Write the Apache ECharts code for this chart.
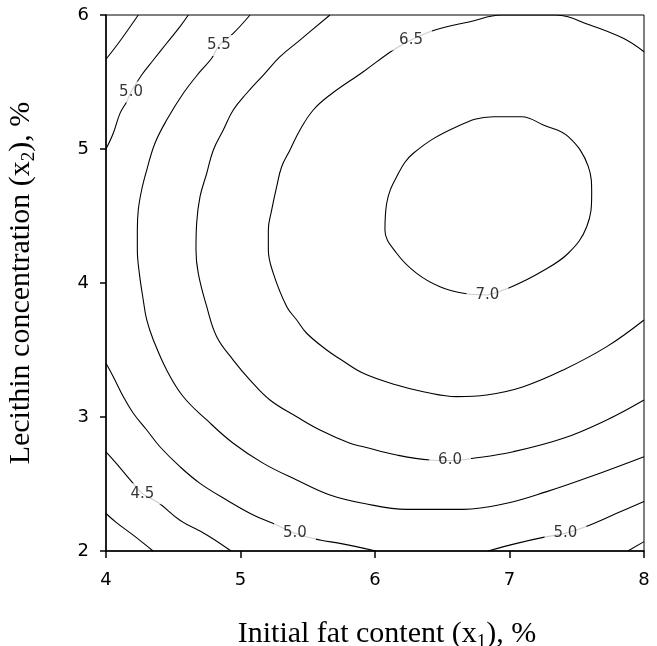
<!DOCTYPE html>
<html>
<head>
<meta charset="utf-8">
<script src="https://cdn.jsdelivr.net/npm/echarts@6/dist/echarts.min.js"></script>
<style>
  html, body { margin: 0; padding: 0; background: #fff; }
  #main { width: 657px; height: 646px; }
</style>
</head>
<body>
<div id="main"></div>
<script>
// axis ticks
var xTicks = [4, 5, 6, 7, 8];
var yTicks = [2, 3, 4, 5, 6];

// contour lines, [x1, x2] points
var c45TopLeft = [[4, 5.67], [4.10, 5.80], [4.24, 6.0]];
var c50TopLeft = [[4, 5.0], [4.054, 5.117], [4.104, 5.266], [4.154, 5.353], [4.186, 5.425],
  [4.265, 5.552], [4.352, 5.664], [4.451, 5.789], [4.550, 5.913], [4.612, 6.0]];
var c55 = [[5.071, 6.0], [4.946, 5.863], [4.840, 5.772], [4.786, 5.677], [4.699, 5.577],
  [4.575, 5.416], [4.451, 5.216], [4.364, 5.043], [4.303, 4.843], [4.265, 4.694],
  [4.240, 4.545], [4.233, 4.396], [4.233, 4.246], [4.248, 4.072], [4.277, 3.873],
  [4.303, 3.724], [4.352, 3.575], [4.451, 3.351], [4.575, 3.151], [4.749, 2.978],
  [4.946, 2.804], [5.170, 2.654], [5.418, 2.530], [5.665, 2.418], [5.913, 2.356],
  [6.236, 2.311], [6.657, 2.311], [6.979, 2.356], [7.277, 2.443], [7.599, 2.554], [8.0, 2.704]];
var c60 = [[5.665, 6.0], [5.442, 5.813], [5.294, 5.689], [5.170, 5.552], [5.046, 5.416],
  [4.946, 5.291], [4.872, 5.142], [4.798, 4.993], [4.749, 4.819], [4.699, 4.644],
  [4.674, 4.446], [4.669, 4.246], [4.686, 4.072], [4.749, 3.823], [4.823, 3.599],
  [4.946, 3.425], [5.071, 3.276], [5.219, 3.127], [5.418, 3.002], [5.591, 2.903],
  [5.814, 2.804], [5.913, 2.778], [6.161, 2.716], [6.409, 2.679], [6.558, 2.675],
  [6.731, 2.692], [7.028, 2.741], [7.400, 2.841], [7.723, 2.978], [8.0, 3.127]];
var c65 = [[8.0, 5.726], [7.846, 5.826], [7.599, 5.925], [7.338, 6.0], [6.942, 6.0],
  [6.706, 5.950], [6.446, 5.888], [6.268, 5.813], [6.136, 5.739], [5.913, 5.577],
  [5.665, 5.403], [5.541, 5.291], [5.442, 5.142], [5.368, 4.993], [5.306, 4.868],
  [5.269, 4.719], [5.232, 4.545], [5.207, 4.396], [5.207, 4.246], [5.244, 4.072],
  [5.344, 3.823], [5.418, 3.724], [5.492, 3.625], [5.641, 3.500], [5.740, 3.433],
  [5.913, 3.326], [6.161, 3.239], [6.359, 3.189], [6.607, 3.152], [6.830, 3.164],
  [7.103, 3.226], [7.400, 3.351], [7.723, 3.525], [8.0, 3.724]];
var c70 = [[6.840, 3.910], [7.016, 3.972], [7.230, 4.080], [7.437, 4.222], [7.574, 4.420],
  [7.611, 4.669], [7.586, 4.868], [7.437, 5.092], [7.251, 5.179], [7.091, 5.241],
  [6.880, 5.241], [6.607, 5.166], [6.285, 4.968], [6.161, 4.793], [6.087, 4.595],
  [6.074, 4.396], [6.161, 4.222], [6.310, 4.072], [6.483, 3.972], [6.657, 3.923], [6.840, 3.910]];
var c40BottomLeft = [[4, 2.28], [4.08, 2.21], [4.20, 2.12], [4.35, 2.0]];
var c45BottomLeft = [[4, 2.74], [4.08, 2.65], [4.18, 2.53], [4.27, 2.43], [4.39, 2.36],
  [4.55, 2.23], [4.75, 2.12], [4.93, 2.0]];
var c50BottomLeft = [[4, 3.401], [4.054, 3.301], [4.129, 3.151], [4.203, 3.028], [4.303, 2.903],
  [4.401, 2.778], [4.550, 2.629], [4.699, 2.505], [4.897, 2.381], [5.095, 2.269],
  [5.269, 2.194], [5.405, 2.132], [5.591, 2.082], [5.740, 2.057], [6.007, 2.0]];
var c50BottomRight = [[6.840, 2.0], [7.054, 2.057], [7.277, 2.107], [7.416, 2.132],
  [7.599, 2.194], [7.797, 2.281], [8.0, 2.37]];
var c45BottomRight = [[7.88, 2.0], [8.0, 2.07]];

// contour labels
var labelText = ['5.0', '5.5', '6.5', '7.0', '6.0', '4.5', '5.0', '5.0'];
var labelX = [4.186, 4.840, 6.268, 6.836, 6.558, 4.271, 5.405, 7.416];
var labelY = [5.425, 5.772, 5.813, 3.910, 2.675, 2.428, 2.132, 2.132];

var contours = [c45TopLeft, c50TopLeft, c55, c60, c65, c70,
  c40BottomLeft, c45BottomLeft, c50BottomLeft, c50BottomRight, c45BottomRight];

var myChart = echarts.init(document.getElementById('main'));

var series = contours.map(function (pts) {
  return {
    type: 'line',
    data: pts,
    showSymbol: false,
    symbol: 'none',
    smooth: 0.4,
    z: 2,
    lineStyle: { color: '#000', width: 1.1 }
  };
});

var labelData = labelText.map(function (t, i) {
  return { value: [labelX[i], labelY[i]], name: t };
});

series.push({
  type: 'scatter',
  data: labelData,
  symbolSize: 1,
  z: 5,
  itemStyle: { color: 'rgba(0,0,0,0)' },
  label: {
    show: true,
    position: 'inside',
    formatter: function (p) { return p.name; },
    fontFamily: 'DejaVu Sans',
    fontSize: 15,
    color: '#000',
    backgroundColor: '#fff',
    padding: [3, 9]
  }
});

var serifName = {
  fontFamily: 'Liberation Serif',
  fontSize: 30,
  color: '#000',
  lineHeight: 36,
  rich: {
    sub: {
      fontFamily: 'Liberation Serif',
      fontSize: 19,
      color: '#000',
      verticalAlign: 'bottom',
      lineHeight: 22
    }
  }
};

var option = {
  animation: false,
  backgroundColor: '#fff',
  grid: {
    left: 106, right: 13, top: 15, bottom: 95,
    show: true, borderColor: '#000', borderWidth: 1,
    containLabel: false, outerBoundsMode: 'none'
  },
  xAxis: {
    type: 'value',
    min: xTicks[0], max: xTicks[xTicks.length - 1], interval: 1,
    name: 'Initial fat content (x{sub|1}), %',
    nameLocation: 'middle',
    nameGap: 65,
    nameTextStyle: Object.assign({ padding: [0, 0, 0, 24] }, serifName),
    axisLine: { lineStyle: { color: '#000', width: 1.5 } },
    axisTick: { length: 7, lineStyle: { color: '#000', width: 1.5 } },
    axisLabel: { margin: 20, fontFamily: 'DejaVu Sans', fontSize: 18, color: '#000' },
    splitLine: { show: false }
  },
  yAxis: {
    type: 'value',
    min: yTicks[0], max: yTicks[yTicks.length - 1], interval: 1,
    name: 'Lecithin concentration (x{sub|2}), %',
    nameLocation: 'middle',
    nameGap: 67,
    nameTextStyle: serifName,
    axisLine: { lineStyle: { color: '#000', width: 1.5 } },
    axisTick: { length: 6, lineStyle: { color: '#000', width: 1.5 } },
    axisLabel: { margin: 17, fontFamily: 'DejaVu Sans', fontSize: 18, color: '#000' },
    splitLine: { show: false }
  },
  series: series
};

myChart.setOption(option);
</script>
</body>
</html>
